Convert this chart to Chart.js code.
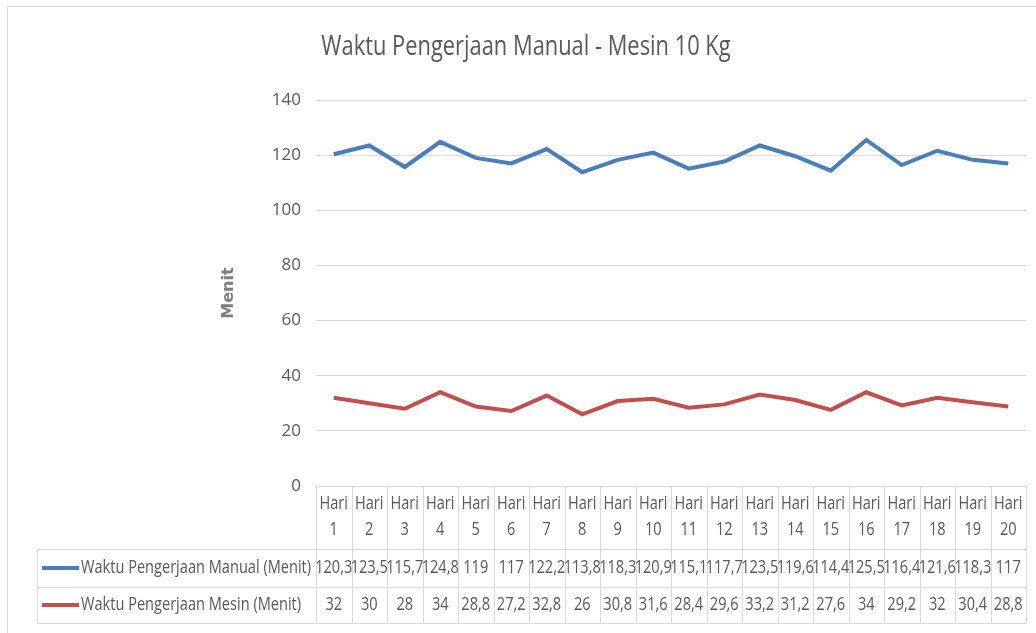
<!DOCTYPE html>
<html>
<head>
<meta charset="utf-8">
<script src="https://cdn.jsdelivr.net/npm/chart.js@4/dist/chart.umd.min.js"></script>
<style>
  html, body { margin: 0; padding: 0; background: #fff; }
  canvas { display: block; }
</style>
</head>
<body>
<canvas id="waktuChart" width="1036" height="633"></canvas>
<script>
// ============================================
// DATA
// ============================================
const dayLabels = ['Hari 1','Hari 2','Hari 3','Hari 4','Hari 5','Hari 6','Hari 7','Hari 8','Hari 9','Hari 10',
                   'Hari 11','Hari 12','Hari 13','Hari 14','Hari 15','Hari 16','Hari 17','Hari 18','Hari 19','Hari 20'];
const manualData = [120.3, 123.5, 115.7, 124.8, 119, 117, 122.2, 113.8, 118.3, 120.9,
                    115.1, 117.7, 123.5, 119.6, 114.4, 125.5, 116.4, 121.6, 118.3, 117];
const mesinData  = [32, 30, 28, 34, 28.8, 27.2, 32.8, 26, 30.8, 31.6,
                    28.4, 29.6, 33.2, 31.2, 27.6, 34, 29.2, 32, 30.4, 28.8];
const seriesNames = ['Waktu Pengerjaan Manual (Menit)', 'Waktu Pengerjaan Mesin (Menit)'];
const yTicks = [0, 20, 40, 60, 80, 100, 120, 140];
const chartTitle = 'Waktu Pengerjaan Manual - Mesin 10 Kg';

const FONT = '"Open Sans", "Noto Sans", sans-serif';
const TEXT = '#595959';
const LINE = '#D9D9D9';
const BLUE = '#4A7EBB';
const RED  = '#C0504D';
const SQUEEZE = 0.81;   // no Calibri here, so squash a humanist sans a bit

const fmt = v => String(v).replace('.', ',');

function narrowText(c, text, x, y) {
    c.fillText(text, x, y, c.measureText(text).width * SQUEEZE);
}

// ============================================
// Excel style data table + titles + frame
// ============================================
const dataTablePlugin = {
    id: 'dataTable',
    afterDraw(chart) {
        const c = chart.ctx;
        const xs = chart.scales.x;
        const area = chart.chartArea;
        const n = dayLabels.length;
        const step = xs.getPixelForValue(1) - xs.getPixelForValue(0);
        const left = xs.getPixelForValue(0) - step / 2;
        const right = xs.getPixelForValue(n - 1) + step / 2;
        const top = area.bottom;
        const headBottom = top + 63;
        const row1Bottom = headBottom + 38;
        const row2Bottom = row1Bottom + 36;
        const tableLeft = 37;

        c.save();
        c.strokeStyle = LINE;
        c.lineWidth = 1;
        c.beginPath();
        // header row
        c.moveTo(left, top + 0.5); c.lineTo(right, top + 0.5);
        for (let i = 0; i <= n; i++) {
            const x = Math.round(left + i * step) + 0.5;
            c.moveTo(x, top); c.lineTo(x, row2Bottom);
        }
        // body rows
        [headBottom, row1Bottom, row2Bottom].forEach(y => {
            c.moveTo(tableLeft, y + 0.5); c.lineTo(right, y + 0.5);
        });
        c.moveTo(tableLeft + 0.5, headBottom); c.lineTo(tableLeft + 0.5, row2Bottom);
        // outer chart frame (cropped)
        c.moveTo(7.5, 633); c.lineTo(7.5, 6.5); c.lineTo(1036, 6.5);
        c.stroke();

        // title
        c.fillStyle = TEXT;
        c.textBaseline = 'middle';
        c.textAlign = 'center';
        c.font = '27px ' + FONT;
        narrowText(c, chartTitle, 526, 47);

        c.font = '18px ' + FONT;
        dayLabels.forEach((lab, i) => {
            const x = xs.getPixelForValue(i);
            const parts = lab.split(' ');
            narrowText(c, parts[0], x, top + 18);
            narrowText(c, parts[1], x, top + 44);
        });

        const rows = [
            { name: seriesNames[0], data: manualData, color: BLUE, y: (headBottom + row1Bottom) / 2 },
            { name: seriesNames[1], data: mesinData,  color: RED,  y: (row1Bottom + row2Bottom) / 2 }
        ];
        rows.forEach(r => {
            c.fillStyle = TEXT;
            c.textAlign = 'center';
            r.data.forEach((v, i) => narrowText(c, fmt(v), xs.getPixelForValue(i), r.y));
            c.strokeStyle = r.color;
            c.lineWidth = 4;
            c.beginPath();
            c.moveTo(42, r.y); c.lineTo(79, r.y);
            c.stroke();
            c.textAlign = 'left';
            narrowText(c, r.name, 81, r.y);
        });

        // y axis title
        c.translate(229, (area.top + area.bottom) / 2);
        c.rotate(-Math.PI / 2);
        c.fillStyle = '#7F7F7F';
        c.font = 'bold 16px "DejaVu Sans", sans-serif';
        c.textAlign = 'center';
        c.fillText('Menit', 0, 0);
        c.restore();
    }
};

document.addEventListener('DOMContentLoaded', () => {
    const ctx = document.getElementById('waktuChart').getContext('2d');
    new Chart(ctx, {
        type: 'line',
        data: {
            labels: dayLabels,
            datasets: [
                {
                    label: seriesNames[0],
                    data: manualData,
                    borderColor: BLUE,
                    borderWidth: 4,
                    pointRadius: 0,
                    tension: 0,
                    fill: false
                },
                {
                    label: seriesNames[1],
                    data: mesinData,
                    borderColor: RED,
                    borderWidth: 4,
                    pointRadius: 0,
                    tension: 0,
                    fill: false
                }
            ]
        },
        options: {
            responsive: false,
            animation: false,
            layout: { padding: { left: 10, right: 10, top: 100, bottom: 147 } },
            plugins: {
                legend: { display: false },
                tooltip: { enabled: false }
            },
            scales: {
                x: {
                    display: false,
                    offset: true
                },
                y: {
                    min: 0,
                    max: 140,
                    afterFit: s => { s.width = 306; },
                    afterBuildTicks: s => { s.ticks = yTicks.map(v => ({ value: v })); },
                    grid: { color: LINE, drawTicks: false },
                    border: { display: false },
                    ticks: { color: TEXT, padding: 15, font: { family: FONT, size: 17 } }
                }
            }
        },
        plugins: [dataTablePlugin]
    });
});
</script>
</body>
</html>
